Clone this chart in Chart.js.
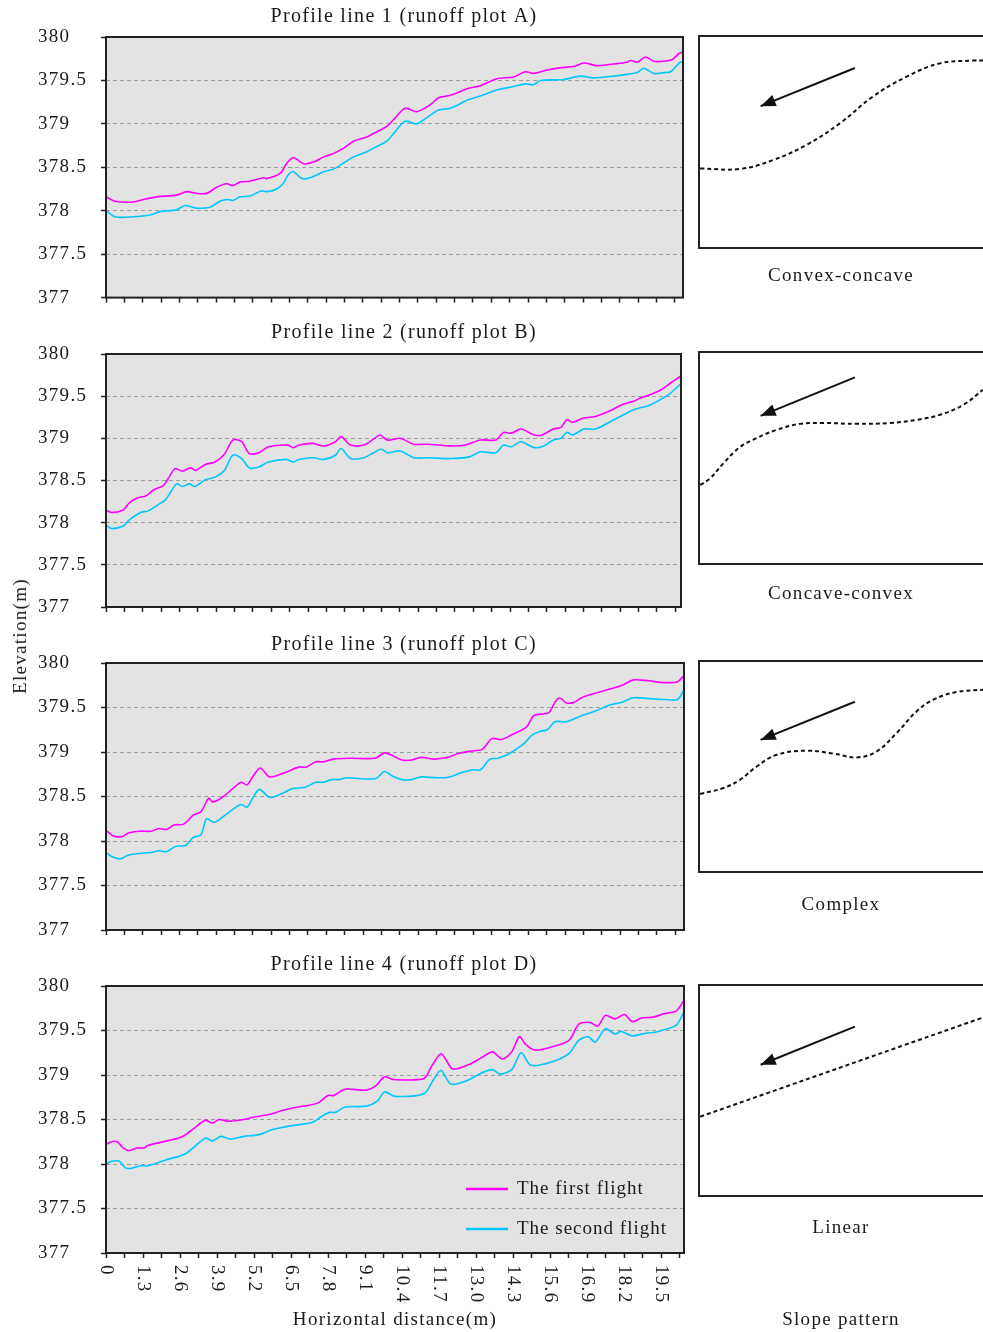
<!DOCTYPE html>
<html lang="en">
<head>
<meta charset="UTF-8" />
<title>Profile lines</title>
<script src="https://cdn.jsdelivr.net/npm/chart.js"></script>
<style>
  body { margin: 0; background: #fff; }
  #wrap { position: relative; width: 983px; height: 1332px; overflow: hidden; }
  canvas { position: absolute; }
  #ytitle {
    position: absolute; left: 20px; top: 636px;
    transform: translate(-50%, -50%) rotate(-90deg);
    font: 19px "Liberation Serif", "Times New Roman", serif;
    letter-spacing: 1.3px; white-space: nowrap; color: #1a1a1a;
  }
</style>
</head>
<body>
<div id="wrap">
  <canvas id="p1"></canvas>
  <canvas id="p2"></canvas>
  <canvas id="p3"></canvas>
  <canvas id="p4"></canvas>
  <canvas id="s1"></canvas>
  <canvas id="s2"></canvas>
  <canvas id="s3"></canvas>
  <canvas id="s4"></canvas>
  <div id="ytitle">Elevation(m)</div>
</div>
<script>
const panelTitles = ["Profile line 1 (runoff plot A)", "Profile line 2 (runoff plot B)",
  "Profile line 3 (runoff plot C)", "Profile line 4 (runoff plot D)"];
const seriesNames = ["The first flight", "The second flight"];
const xTitle = "Horizontal distance(m)";
const xLabelValues = [0, 1.3, 2.6, 3.9, 5.2, 6.5, 7.8, 9.1, 10.4, 11.7, 13.0, 14.3, 15.6, 16.9, 18.2, 19.5];
const xLabels = ["0", "1.3", "2.6", "3.9", "5.2", "6.5", "7.8", "9.1", "10.4", "11.7", "13.0", "14.3", "15.6", "16.9", "18.2", "19.5"];
const shapeNames = ["Convex-concave", "Concave-convex", "Complex", "Linear"];

// plot A
const distA1 = [0, 0.32, 0.97, 1.32, 1.8, 2.5, 2.86, 3.2, 3.57, 3.92, 4.28, 4.5, 4.75, 5.1, 5.58, 5.7, 6.17, 6.41, 6.64, 7.0, 7.35, 7.71, 8.06, 8.42, 8.77, 9.24, 9.6, 9.95, 10.19, 10.6, 11.0, 11.49, 11.78, 12.2, 12.85, 13.26, 13.85, 14.44, 14.86, 15.15, 15.63, 16.2, 16.57, 16.93, 17.4, 17.99, 18.46, 18.58, 18.82, 19.11, 19.41, 19.76, 20.06, 20.3, 20.44];
const elevA1 = [378.16, 378.11, 378.10, 378.13, 378.16, 378.18, 378.22, 378.20, 378.20, 378.27, 378.31, 378.29, 378.33, 378.34, 378.38, 378.37, 378.43, 378.55, 378.61, 378.54, 378.56, 378.62, 378.66, 378.72, 378.80, 378.85, 378.91, 378.97, 379.05, 379.18, 379.14, 379.22, 379.30, 379.33, 379.41, 379.44, 379.52, 379.54, 379.60, 379.58, 379.62, 379.65, 379.66, 379.70, 379.67, 379.69, 379.71, 379.73, 379.71, 379.77, 379.72, 379.72, 379.74, 379.81, 379.83];
const distA2 = [0, 0.32, 0.97, 1.56, 1.92, 2.5, 2.8, 3.2, 3.68, 4.04, 4.33, 4.5, 4.75, 5.1, 5.52, 5.7, 6.05, 6.29, 6.47, 6.64, 6.94, 7.23, 7.71, 8.06, 8.42, 8.77, 9.24, 9.6, 9.95, 10.19, 10.6, 11.0, 11.49, 11.78, 12.2, 12.85, 13.26, 13.85, 14.44, 14.86, 15.15, 15.39, 16.2, 16.81, 17.28, 17.99, 18.46, 18.82, 19.05, 19.41, 19.76, 20.0, 20.3, 20.44];
const elevA2 = [378.00, 377.93, 377.93, 377.95, 377.99, 378.01, 378.06, 378.03, 378.04, 378.11, 378.13, 378.12, 378.16, 378.17, 378.23, 378.22, 378.25, 378.32, 378.42, 378.45, 378.37, 378.38, 378.45, 378.48, 378.55, 378.62, 378.68, 378.74, 378.80, 378.89, 379.03, 379.00, 379.10, 379.16, 379.18, 379.28, 379.32, 379.39, 379.43, 379.46, 379.45, 379.50, 379.51, 379.55, 379.53, 379.55, 379.57, 379.59, 379.64, 379.58, 379.59, 379.60, 379.70, 379.72];

// plot B
const distB1 = [0, 0.2, 0.61, 0.81, 1.08, 1.42, 1.69, 2.03, 2.23, 2.44, 2.71, 2.98, 3.18, 3.52, 3.86, 4.19, 4.49, 4.8, 5.07, 5.41, 5.75, 6.43, 6.63, 6.83, 7.31, 7.71, 8.12, 8.32, 8.66, 9.13, 9.47, 9.7, 9.95, 10.42, 10.89, 11.37, 12.18, 12.72, 13.26, 13.8, 14.07, 14.34, 14.68, 15.16, 15.43, 15.83, 16.1, 16.31, 16.51, 16.91, 17.32, 17.86, 18.27, 18.67, 18.94, 19.35, 19.62, 19.96, 20.35];
const elevB1 = [378.15, 378.12, 378.15, 378.23, 378.29, 378.32, 378.39, 378.44, 378.54, 378.64, 378.61, 378.65, 378.62, 378.69, 378.72, 378.81, 378.98, 378.96, 378.82, 378.83, 378.90, 378.92, 378.89, 378.92, 378.94, 378.91, 378.96, 379.02, 378.92, 378.92, 378.99, 379.04, 378.98, 379.00, 378.93, 378.93, 378.91, 378.92, 378.98, 378.98, 379.07, 379.06, 379.11, 379.04, 379.04, 379.11, 379.13, 379.22, 379.19, 379.24, 379.26, 379.33, 379.40, 379.44, 379.48, 379.53, 379.57, 379.65, 379.74];
const distB2 = [0, 0.2, 0.61, 0.81, 1.22, 1.49, 1.83, 2.1, 2.3, 2.5, 2.71, 2.95, 3.14, 3.52, 3.86, 4.19, 4.49, 4.8, 5.07, 5.41, 5.75, 6.36, 6.63, 6.83, 7.31, 7.71, 8.12, 8.32, 8.66, 9.13, 9.47, 9.74, 9.95, 10.42, 10.89, 11.37, 12.18, 12.86, 13.26, 13.8, 14.07, 14.34, 14.68, 15.16, 15.5, 15.83, 16.1, 16.31, 16.51, 16.91, 17.32, 17.86, 18.27, 18.67, 19.22, 19.62, 19.96, 20.35];
const elevB2 = [377.97, 377.93, 377.96, 378.03, 378.12, 378.14, 378.21, 378.27, 378.37, 378.46, 378.43, 378.46, 378.43, 378.51, 378.54, 378.62, 378.80, 378.76, 378.65, 378.66, 378.72, 378.75, 378.72, 378.75, 378.77, 378.75, 378.80, 378.88, 378.76, 378.77, 378.83, 378.87, 378.83, 378.85, 378.77, 378.77, 378.76, 378.78, 378.84, 378.83, 378.92, 378.90, 378.96, 378.89, 378.91, 378.98, 379.00, 379.07, 379.04, 379.11, 379.11, 379.20, 379.27, 379.34, 379.39, 379.46, 379.53, 379.65];

// plot C
const distC1 = [0, 0.24, 0.58, 0.79, 1.19, 1.6, 1.87, 2.14, 2.41, 2.75, 3.09, 3.36, 3.63, 3.77, 3.97, 4.24, 4.78, 4.99, 5.19, 5.46, 5.8, 6.34, 6.82, 7.09, 7.43, 7.7, 8.04, 8.64, 9.53, 9.86, 10.14, 10.47, 10.81, 11.15, 11.63, 12.1, 12.44, 12.91, 13.32, 13.66, 14.0, 14.34, 14.88, 15.15, 15.56, 15.7, 15.96, 16.1, 16.3, 16.57, 16.84, 17.32, 17.86, 18.27, 18.67, 19.21, 19.76, 20.23, 20.46];
const elevC1 = [378.12, 378.06, 378.05, 378.09, 378.11, 378.11, 378.14, 378.13, 378.18, 378.19, 378.29, 378.33, 378.48, 378.44, 378.46, 378.52, 378.66, 378.63, 378.72, 378.82, 378.72, 378.77, 378.83, 378.83, 378.89, 378.89, 378.92, 378.93, 378.93, 378.99, 378.96, 378.91, 378.91, 378.94, 378.92, 378.94, 378.98, 379.01, 379.03, 379.15, 379.14, 379.19, 379.28, 379.41, 379.43, 379.45, 379.59, 379.60, 379.55, 379.56, 379.61, 379.66, 379.71, 379.75, 379.81, 379.80, 379.78, 379.79, 379.86];
const distC2 = [0, 0.24, 0.51, 0.79, 1.19, 1.6, 1.87, 2.14, 2.48, 2.82, 3.09, 3.36, 3.56, 3.83, 4.17, 4.51, 4.78, 4.99, 5.19, 5.43, 5.8, 6.21, 6.61, 7.02, 7.43, 7.7, 7.97, 8.24, 8.51, 9.53, 9.86, 10.14, 10.47, 10.81, 11.15, 11.76, 12.17, 12.51, 12.98, 13.25, 13.59, 13.86, 14.2, 14.47, 14.81, 15.08, 15.35, 15.62, 15.89, 16.3, 16.77, 17.32, 17.86, 18.27, 18.67, 19.21, 19.76, 20.23, 20.46];
const elevC2 = [377.87, 377.82, 377.80, 377.84, 377.86, 377.87, 377.89, 377.88, 377.94, 377.95, 378.04, 378.07, 378.25, 378.21, 378.28, 378.36, 378.41, 378.38, 378.48, 378.58, 378.49, 378.53, 378.59, 378.60, 378.66, 378.66, 378.69, 378.69, 378.71, 378.70, 378.78, 378.73, 378.69, 378.69, 378.72, 378.71, 378.72, 378.76, 378.80, 378.80, 378.92, 378.93, 378.97, 379.02, 379.10, 379.19, 379.23, 379.25, 379.34, 379.34, 379.40, 379.46, 379.53, 379.56, 379.61, 379.60, 379.59, 379.59, 379.70];

// plot D
const distD1 = [0, 0.2, 0.4, 0.6, 0.81, 1.08, 1.34, 1.48, 2.15, 2.69, 3.09, 3.49, 3.74, 3.97, 4.3, 4.84, 5.24, 5.78, 6.18, 6.72, 7.12, 7.46, 7.8, 8.0, 8.4, 9.14, 9.48, 9.78, 10.08, 11.16, 11.42, 11.76, 11.96, 12.16, 12.43, 12.77, 13.17, 13.58, 13.91, 14.25, 14.52, 14.72, 15.05, 15.59, 16.26, 16.6, 17.0, 17.27, 17.54, 17.88, 18.21, 18.48, 18.82, 19.22, 19.62, 20.03, 20.3];
const elevD1 = [378.22, 378.25, 378.25, 378.18, 378.15, 378.18, 378.18, 378.21, 378.26, 378.31, 378.40, 378.49, 378.46, 378.50, 378.48, 378.50, 378.53, 378.56, 378.60, 378.64, 378.66, 378.69, 378.77, 378.77, 378.84, 378.83, 378.88, 378.98, 378.95, 378.96, 379.09, 379.24, 379.16, 379.07, 379.08, 379.12, 379.19, 379.26, 379.18, 379.26, 379.43, 379.35, 379.28, 379.31, 379.39, 379.57, 379.59, 379.55, 379.67, 379.63, 379.68, 379.60, 379.64, 379.65, 379.69, 379.72, 379.84];
const distD2 = [0, 0.2, 0.47, 0.67, 0.87, 1.21, 1.48, 2.15, 2.76, 3.09, 3.49, 3.74, 4.03, 4.37, 4.84, 5.38, 5.78, 6.18, 6.72, 7.26, 7.59, 7.86, 8.06, 8.4, 9.14, 9.54, 9.78, 10.15, 11.16, 11.49, 11.76, 12.1, 12.43, 12.77, 13.17, 13.58, 13.84, 14.25, 14.58, 14.92, 15.59, 16.26, 16.6, 16.94, 17.18, 17.54, 17.88, 18.08, 18.48, 18.95, 19.29, 19.62, 20.03, 20.3];
const elevD2 = [378.00, 378.03, 378.03, 377.96, 377.95, 377.98, 377.98, 378.05, 378.11, 378.19, 378.29, 378.26, 378.31, 378.28, 378.31, 378.33, 378.38, 378.41, 378.44, 378.47, 378.54, 378.58, 378.58, 378.64, 378.65, 378.71, 378.81, 378.76, 378.79, 378.94, 379.05, 378.90, 378.91, 378.95, 379.02, 379.06, 379.01, 379.06, 379.25, 379.11, 379.14, 379.24, 379.39, 379.43, 379.37, 379.52, 379.46, 379.49, 379.44, 379.47, 379.48, 379.51, 379.56, 379.71];

// slope pattern sketches (0..1 inside each box)
const shapeU1 = [0.004, 0.145, 0.261, 0.378, 0.496, 0.612, 0.731, 0.848, 0.965, 1.0];
const shapeV1 = [0.375, 0.373, 0.415, 0.486, 0.588, 0.714, 0.808, 0.871, 0.884, 0.884];
const shapeU2 = [0.004, 0.039, 0.086, 0.144, 0.203, 0.274, 0.356, 0.438, 0.555, 0.673, 0.767, 0.849, 0.931, 1.0];
const shapeV2 = [0.373, 0.404, 0.475, 0.551, 0.594, 0.633, 0.661, 0.665, 0.661, 0.665, 0.680, 0.704, 0.751, 0.822];
const shapeU3 = [0.004, 0.086, 0.144, 0.203, 0.274, 0.380, 0.473, 0.555, 0.626, 0.696, 0.766, 0.825, 0.907, 1.0];
const shapeV3 = [0.370, 0.398, 0.437, 0.500, 0.556, 0.575, 0.561, 0.543, 0.572, 0.659, 0.761, 0.817, 0.853, 0.864];
const shapeU4 = [0.004, 1.0];
const shapeV4 = [0.376, 0.846];
const arrowU = [0.549, 0.217];
const arrowV1 = [0.849, 0.669];
const arrowV2 = [0.880, 0.699];
const arrowV3 = [0.807, 0.626];
const arrowV4 = [0.803, 0.622];

const serif = '"Liberation Serif", "Times New Roman", serif';
Chart.defaults.font.family = serif;
Chart.defaults.color = "#1a1a1a";

const pts = (xs, ys) => xs.map((x, i) => ({ x: x, y: ys[i] }));

const panels = [
  { id: "p1", top: 0, h: 312, titleY: 17, plotTop: 37, plotBottom: 298, plotRight: 683, xMax: 20.44, d1: distA1, e1: elevA1, d2: distA2, e2: elevA2 },
  { id: "p2", top: 312, h: 313, titleY: 333, plotTop: 354, plotBottom: 607, plotRight: 681, xMax: 20.35, d1: distB1, e1: elevB1, d2: distB2, e2: elevB2 },
  { id: "p3", top: 625, h: 320, titleY: 645, plotTop: 663, plotBottom: 930, plotRight: 684, xMax: 20.46, d1: distC1, e1: elevC1, d2: distC2, e2: elevC2 },
  { id: "p4", top: 945, h: 387, titleY: 965, plotTop: 986, plotBottom: 1253, plotRight: 684, xMax: 20.3, d1: distD1, e1: elevD1, d2: distD2, e2: elevD2 }
];

const slopes = [
  { id: "s1", top: 20, h: 295, boxTop: 36, boxBottom: 248, labelY: 276, u: shapeU1, v: shapeV1, av: arrowV1 },
  { id: "s2", top: 335, h: 290, boxTop: 352, boxBottom: 564, labelY: 594, u: shapeU2, v: shapeV2, av: arrowV2 },
  { id: "s3", top: 645, h: 290, boxTop: 661, boxBottom: 872, labelY: 905, u: shapeU3, v: shapeV3, av: arrowV3 },
  { id: "s4", top: 968, h: 364, boxTop: 985, boxBottom: 1196, labelY: 1228, u: shapeU4, v: shapeV4, av: arrowV4 }
];

function panelDeco(title, titleRel, isLast) {
  return {
    id: "panelDeco",
    beforeDraw(chart) {
      const { ctx, chartArea: a } = chart;
      ctx.letterSpacing = "1.3px";
      ctx.save();
      ctx.fillStyle = "#e3e3e3";
      ctx.fillRect(a.left, a.top, a.width, a.height);
      ctx.restore();
    },
    afterDatasetsDraw(chart) {
      const { ctx, chartArea: a } = chart;
      ctx.save();
      ctx.strokeStyle = "#222";
      ctx.lineWidth = 2;
      ctx.strokeRect(a.left, a.top, a.width, a.height);
      ctx.restore();
    },
    afterDraw(chart) {
      const { ctx, chartArea: a } = chart;
      ctx.save();
      ctx.fillStyle = "#1a1a1a";
      ctx.font = "20px " + serif;
      ctx.textAlign = "center";
      ctx.textBaseline = "middle";
      ctx.fillText(title, 404, titleRel);
      if (isLast) {
        const xs = chart.scales.x;
        ctx.font = "19px " + serif;
        ctx.textAlign = "left";
        xLabelValues.forEach((v, i) => {
          ctx.save();
          ctx.translate(xs.getPixelForValue(v), a.bottom + 12);
          ctx.rotate(Math.PI / 2);
          ctx.fillText(xLabels[i], 0, 0);
          ctx.restore();
        });
        // legend inside the plot area
        const rows = [64, 24];
        ctx.letterSpacing = "1px";
        chart.data.datasets.forEach((ds, i) => {
          const y = a.bottom - rows[i];
          ctx.strokeStyle = ds.borderColor;
          ctx.lineWidth = 2.5;
          ctx.beginPath();
          ctx.moveTo(a.left + 360, y);
          ctx.lineTo(a.left + 402, y);
          ctx.stroke();
          ctx.fillText(ds.label, a.left + 411, y);
        });
      }
      ctx.restore();
    }
  };
}

panels.forEach((p, idx) => {
  const cv = document.getElementById(p.id);
  cv.width = 690;
  cv.height = p.h;
  cv.style.left = "0px";
  cv.style.top = p.top + "px";
  const plotTop = p.plotTop - p.top;
  const plotBottom = p.plotBottom - p.top;
  const isLast = idx === panels.length - 1;

  new Chart(cv, {
    type: "line",
    data: {
      datasets: [
        { label: seriesNames[0], data: pts(p.d1, p.e1), borderColor: "#ff00ff", borderWidth: 1.6, pointRadius: 0, tension: 0.3, fill: false },
        { label: seriesNames[1], data: pts(p.d2, p.e2), borderColor: "#00c8ff", borderWidth: 1.6, pointRadius: 0, tension: 0.3, fill: false }
      ]
    },
    options: {
      responsive: false,
      animation: false,
      events: [],
      layout: { padding: { left: 38, right: 690 - p.plotRight, top: plotTop, bottom: 0 } },
      plugins: {
        legend: { display: false },
        tooltip: { enabled: false }
      },
      scales: {
        x: {
          type: "linear",
          min: 0,
          max: p.xMax,
          afterFit: (s) => { s.height = p.h - plotBottom; },
          ticks: { display: false, stepSize: 0.65, includeBounds: false },
          grid: { drawOnChartArea: false, tickLength: 5, tickColor: "#222", tickWidth: 1.5 },
          border: { display: false },
          title: { display: isLast, text: xTitle, font: { size: 19 }, padding: { top: 0, bottom: 0.6 } }
        },
        y: {
          min: 377,
          max: 380,
          afterFit: (s) => { s.width = 68; },
          ticks: { stepSize: 0.5, crossAlign: "far", font: { size: 19 }, callback: (v) => String(v) },
          grid: { color: "#9c9c9c", lineWidth: 1, tickLength: 5, tickColor: "#222", tickWidth: 1.5, tickBorderDash: [] },
          border: { display: false, dash: [4, 3] }
        }
      }
    },
    plugins: [panelDeco(panelTitles[idx], p.titleY - p.top, isLast)]
  });
});

const slopeDeco = {
  id: "slopeDeco",
  beforeDraw(chart) {
    chart.ctx.letterSpacing = "1.3px";
  },
  afterDatasetsDraw(chart) {
    const { ctx, chartArea: a } = chart;
    ctx.save();
    ctx.strokeStyle = "#222";
    ctx.lineWidth = 2;
    ctx.beginPath();
    ctx.moveTo(a.right + 5, a.top);
    ctx.lineTo(a.left, a.top);
    ctx.lineTo(a.left, a.bottom);
    ctx.lineTo(a.right + 5, a.bottom);
    ctx.stroke();
    // arrow head at the end of the arrow dataset
    const pt = chart.getDatasetMeta(1).data;
    const p0 = pt[0], p1 = pt[pt.length - 1];
    const ang = Math.atan2(p1.y - p0.y, p1.x - p0.x);
    const len = 15, half = 6;
    const bx = p1.x - len * Math.cos(ang), by = p1.y - len * Math.sin(ang);
    ctx.fillStyle = "#111";
    ctx.beginPath();
    ctx.moveTo(p1.x, p1.y);
    ctx.lineTo(bx + half * Math.sin(ang), by - half * Math.cos(ang));
    ctx.lineTo(bx - half * Math.sin(ang), by + half * Math.cos(ang));
    ctx.closePath();
    ctx.fill();
    ctx.restore();
  }
};

slopes.forEach((s, idx) => {
  const cv = document.getElementById(s.id);
  cv.width = 293;
  cv.height = s.h;
  cv.style.left = "690px";
  cv.style.top = s.top + "px";
  const isLast = idx === slopes.length - 1;
  const boxTop = s.boxTop - s.top;
  const boxBottom = s.boxBottom - s.top;
  const labelRel = s.labelY - s.top;
  const titleH = isLast ? 19 * 1.2 + 0.6 : 0;
  const axisH = s.h - titleH - boxBottom;

  new Chart(cv, {
    type: "line",
    data: {
      datasets: [
        { data: pts(s.u, s.v), borderColor: "#111", borderWidth: 2, borderDash: [4, 3], pointRadius: 0, tension: 0.4 },
        { data: pts(arrowU, s.av), borderColor: "#111", borderWidth: 2, pointRadius: 0, tension: 0 }
      ]
    },
    options: {
      responsive: false,
      animation: false,
      events: [],
      layout: { padding: { left: 9, right: 0, top: boxTop, bottom: 0 } },
      plugins: {
        legend: { display: false },
        tooltip: { enabled: false },
        title: {
          display: isLast,
          position: "bottom",
          text: "Slope pattern",
          font: { size: 19, weight: "normal" },
          padding: { top: 0, bottom: 0.6 }
        }
      },
      scales: {
        x: {
          type: "linear",
          min: 0,
          max: 1,
          afterFit: (sc) => { sc.height = axisH; },
          grid: { display: false },
          ticks: { display: false },
          border: { display: false },
          title: {
            display: true,
            text: shapeNames[idx],
            font: { size: 19 },
            padding: { top: 0, bottom: s.h - titleH - labelRel - 11.4 }
          }
        },
        y: { display: false, min: 0, max: 1 }
      }
    },
    plugins: [slopeDeco]
  });
});
</script>
</body>
</html>
